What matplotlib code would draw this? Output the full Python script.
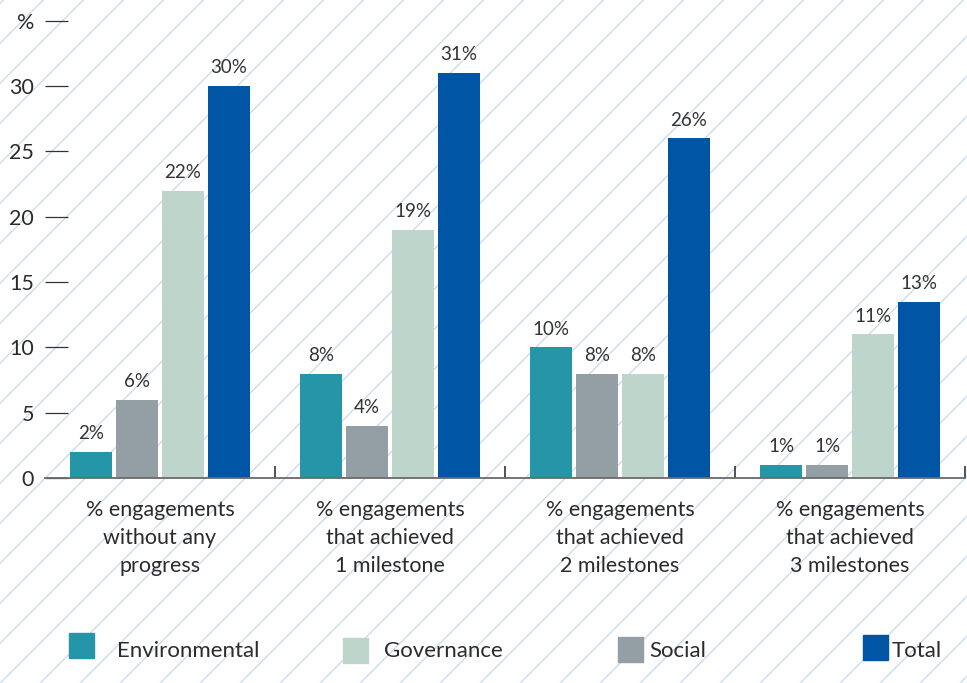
import matplotlib
matplotlib.use("Agg")
import matplotlib.pyplot as plt
from matplotlib.patches import Rectangle
import numpy as np

plt.rcParams['font.family'] = ['Lato', 'DejaVu Sans']

categories = ["% engagements\nwithout any\nprogress",
              "% engagements\nthat achieved\n1 milestone",
              "% engagements\nthat achieved\n2 milestones",
              "% engagements\nthat achieved\n3 milestones"]

# bar order inside each group
series = ["Environmental", "Social", "Governance", "Total"]
environmental = [2, 8, 10, 1]
social = [6, 4, 8, 1]
governance = [22, 19, 8, 11]
total = [30, 31, 26, 13.5]
values = [environmental, social, governance, total]

env_labels = ["2%", "8%", "10%", "1%"]
soc_labels = ["6%", "4%", "8%", "1%"]
gov_labels = ["22%", "19%", "8%", "11%"]
tot_labels = ["30%", "31%", "26%", "13%"]
value_labels = [env_labels, soc_labels, gov_labels, tot_labels]

colors = {"Environmental": "#2596a7",
          "Social": "#939fa4",
          "Governance": "#bed5cb",
          "Total": "#0055a5"}
legend_order = ["Environmental", "Governance", "Social", "Total"]

yticks = [0, 5, 10, 15, 20, 25, 30, 35]
ytick_labels = ["0", "5", "10", "15", "20", "25", "30", "%"]

W, H = 967, 683
fig = plt.figure(figsize=(W / 100, H / 100), dpi=100)
fig.patch.set_facecolor("white")

# background with diagonal stripes (pixel coordinates, y down)
bg = fig.add_axes([0, 0, 1, 1], zorder=0)
bg.set_xlim(0, W)
bg.set_ylim(H, 0)
bg.axis("off")
for c in np.arange(3.3 - 40 * 20, W + H + 40, 40):
    bg.plot([c, c - H - 10], [0, H + 10], color="#c0d6ec", lw=0.8)

# legend drawn on the background axes
leg_patch_x = [69, 343, 618, 863]
leg_text_x = [117, 384, 649, 892]
leg_y = [633, 638, 637, 635]
for name, px, tx, py in zip(legend_order, leg_patch_x, leg_text_x, leg_y):
    bg.add_patch(Rectangle((px, py), 25, 25, color=colors[name], zorder=3))
    bg.text(tx, 651, name, fontsize=16, color="#2b2b2b", va="center", ha="left", zorder=3)

ax = fig.add_axes([45 / W, 1 - 478 / H, 920 / W, 478 / H], zorder=1)
ax.patch.set_alpha(0)

x = np.arange(len(categories))
width = 0.183
offsets = [-0.3, -0.1, 0.1, 0.3]
for name, vals, labs, off in zip(series, values, value_labels, offsets):
    bars = ax.bar(x + off, vals, width, color=colors[name], zorder=2)
    for b, lab in zip(bars, labs):
        ax.annotate(lab, (b.get_x() + b.get_width() / 2, b.get_height()),
                    xytext=(0, 7), textcoords="offset points",
                    ha="center", va="bottom", fontsize=13.5, color="#333333")

ax.set_xlim(-0.5, 3.5)
ax.set_ylim(0, 36.6)

for s in ["left", "right", "top"]:
    ax.spines[s].set_visible(False)
ax.spines["bottom"].set_color("#6a6a6a")
ax.spines["bottom"].set_linewidth(1.3)

ax.set_yticks(yticks)
ax.set_yticklabels(ytick_labels)
ax.tick_params(axis="y", direction="in", length=16.5, width=0.9, color="#333333",
               pad=8, labelsize=15.5, labelcolor="#2b2b2b")

ax.set_xticks(x)
ax.set_xticklabels(categories, fontsize=15.5, color="#2b2b2b", linespacing=1.5)
ax.tick_params(axis="x", which="major", length=0, pad=16)
ax.set_xticks(x + 0.5, minor=True)
ax.tick_params(axis="x", which="minor", direction="in", length=9, width=1.2, color="#333333")

fig.savefig("out.png", dpi=100, facecolor="white")
